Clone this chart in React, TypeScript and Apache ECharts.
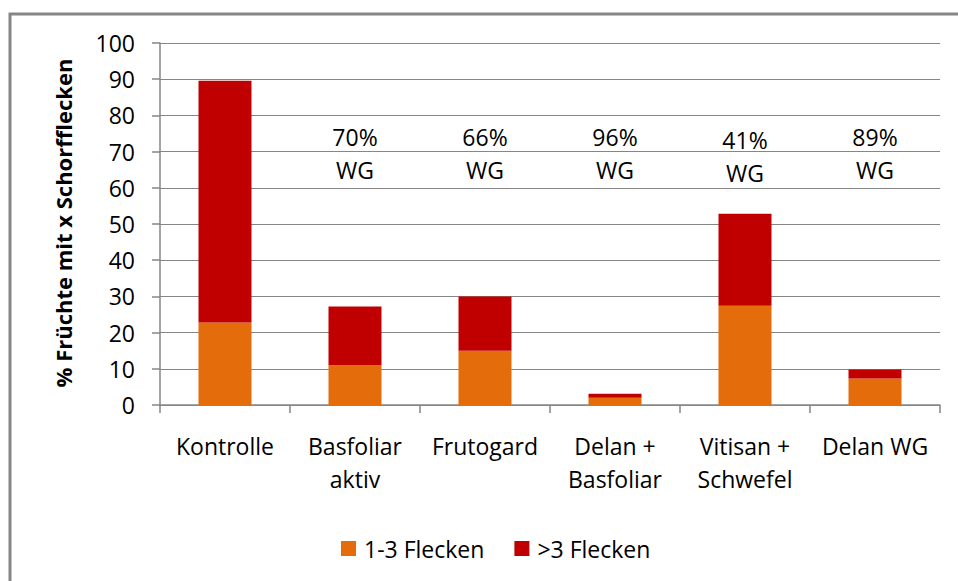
import React, { useEffect, useRef } from "react";
import * as echarts from "echarts";

const categories = [
  "Kontrolle",
  "Basfoliar\naktiv",
  "Frutogard",
  "Delan +\nBasfoliar",
  "Vitisan +\nSchwefel",
  "Delan WG",
];
const low = [22.8, 11.0, 15.0, 2.0, 27.4, 7.3];
const high = [66.8, 16.2, 15.0, 1.1, 25.4, 2.5];
const efficacy = ["", "70%", "66%", "96%", "41%", "89%"];
const efficacyPos = [69.6, 69.6, 69.6, 69.6, 68.7, 69.6];
const yTicks = [0, 10, 20, 30, 40, 50, 60, 70, 80, 90, 100];

const FONT = "Open Sans";
const GRAY = "#868686";
const FS = 23;

export default function App() {
  const ref = useRef<HTMLDivElement>(null);
  useEffect(() => {
    if (!ref.current) return;
    const chart = echarts.init(ref.current, undefined, { renderer: "svg" });
    chart.setOption({
      animation: false,
      backgroundColor: "#ffffff",
      textStyle: { fontFamily: FONT },
      grid: { left: 160, top: 43, width: 780, height: 362, containLabel: false },
      legend: {
        data: ["1-3 Flecken", ">3 Flecken"],
        left: 336,
        top: 532,
        itemWidth: 15,
        itemHeight: 15,
        itemGap: 30,
        icon: "rect",
        textStyle: { fontFamily: FONT, fontSize: FS, color: "#000", padding: [0, 0, 0, 3] },
      },
      graphic: [
        {
          type: "rect",
          shape: { x: 10, y: 14, width: 1000, height: 700 },
          style: { fill: "none", stroke: GRAY, lineWidth: 3 },
          silent: true,
          z: -10,
        },
        {
          type: "text",
          x: 63,
          y: 223,
          rotation: Math.PI / 2,
          style: {
            text: "% Früchte mit x Schorfflecken",
            fontFamily: FONT,
            fontSize: 22,
            fontWeight: "bold",
            fill: "#000",
            textAlign: "center",
            textVerticalAlign: "middle",
          },
        },
      ],
      xAxis: {
        type: "category",
        data: categories,
        axisLine: { lineStyle: { color: GRAY, width: 1.5 } },
        axisTick: { show: true, length: 8, lineStyle: { color: GRAY, width: 1.5 } },
        axisLabel: {
          fontFamily: FONT,
          fontSize: FS,
          color: "#000",
          margin: 24,
          lineHeight: 33,
          interval: 0,
        },
      },
      yAxis: {
        type: "value",
        min: 0,
        max: 100,
        interval: 10,
        axisLine: { show: true, lineStyle: { color: GRAY, width: 1.5 } },
        axisTick: { show: true, length: 8, lineStyle: { color: GRAY, width: 1.5 } },
        splitLine: { show: true, lineStyle: { color: GRAY, width: 1.2 } },
        axisLabel: {
          fontFamily: FONT,
          fontSize: FS,
          color: "#000",
          margin: 25,
          formatter: (v: number) => (yTicks.includes(v) ? String(v) : ""),
        },
      },
      series: [
        {
          name: "1-3 Flecken",
          type: "bar",
          stack: "total",
          data: low,
          barWidth: 53,
          itemStyle: { color: "#E46C0A" },
        },
        {
          name: ">3 Flecken",
          type: "bar",
          stack: "total",
          data: high,
          barWidth: 53,
          itemStyle: { color: "#C00000" },
        },
        {
          name: "WG",
          type: "scatter",
          symbolSize: 0,
          itemStyle: { opacity: 1 },
          data: efficacy.map((t, i) => (t ? [i, efficacyPos[i]] : null)).filter((d) => d !== null),
          label: {
            show: true,
            position: "inside",
            fontFamily: FONT,
            fontSize: FS,
            color: "#000",
            opacity: 1,
            lineHeight: 33,
            formatter: (p: any) => efficacy[p.data[0]] + "\nWG",
          },
          z: 10,
        },
      ],
    });
    return () => chart.dispose();
  }, []);
  return (
    <div
      ref={ref}
      style={{ position: "absolute", left: 0, top: 0, width: 958, height: 581 }}
    />
  );
}
